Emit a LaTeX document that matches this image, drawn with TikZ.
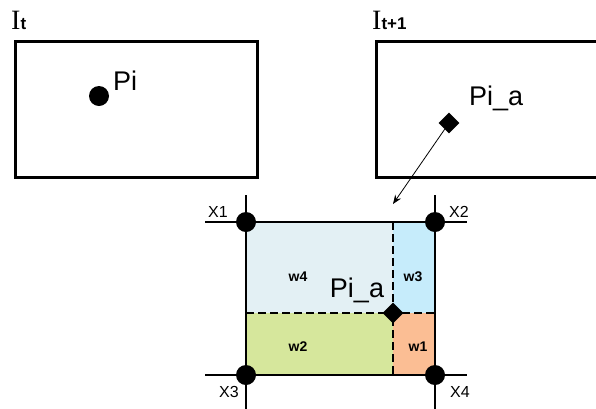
\documentclass[tikz,border=0pt]{standalone}
\usepackage{fontspec}
\setmainfont{Liberation Sans}
\newfontfamily\serifI{Liberation Serif}
\usetikzlibrary{shapes.geometric,arrows.meta}
\definecolor{cwfour}{HTML}{E3F0F4}
\definecolor{cwthree}{HTML}{C6ECFB}
\definecolor{cwtwo}{HTML}{D6E79C}
\definecolor{cwone}{HTML}{FBBE94}
\tikzset{
  frame/.style={line width=3pt},
  gridline/.style={line width=2pt},
  dashline/.style={line width=1.8pt, dash pattern=on 8pt off 4pt},
  dot/.style={circle, fill=black, inner sep=0pt, minimum size=20pt},
  diam/.style={diamond, fill=black, inner sep=0pt, minimum size=21pt},
  biglbl/.style={font=\fontsize{27}{27}\selectfont, inner sep=0pt},
  xlbl/.style={font=\fontsize{16}{16}\selectfont, inner sep=0pt},
  wlbl/.style={font=\bfseries\fontsize{14}{14}\selectfont, inner sep=0pt},
  Ilbl/.style={inner sep=0pt, anchor=base west}
}
\begin{document}
\begin{tikzpicture}[x=1pt,y=-1pt]
\useasboundingbox (0,0) rectangle (596,408);
\clip (0,0) rectangle (596,408);
\fill[white] (0,0) rectangle (596,408);
% titles
\node[Ilbl] (it) at (11,29) {{\serifI\fontsize{28}{28}\selectfont I}{\bfseries\fontsize{17}{17}\selectfont t}};
\node[Ilbl] (it1) at (372,29) {{\serifI\fontsize{28}{28}\selectfont I}{\bfseries\fontsize{17}{17}\selectfont t+1}};
% frames
\draw[frame] (15,41) rectangle (257,177);
\draw[frame] (376,41) rectangle (610,177);
% Pi in left frame
\node[dot] (pi) at (99,96) {};
\node[biglbl, anchor=south west] (pilbl) at (113,91) {Pi};
% Pi_a in right frame
\node[diam] (pa) at (449,123) {};
\node[biglbl, anchor=south west] (palbl) at (469,111) {Pi\_a};
% fills of the cell
\fill[cwfour] (246,222) rectangle (393,313);
\fill[cwthree] (393,222) rectangle (435,313);
\fill[cwtwo] (246,313) rectangle (393,375);
\fill[cwone] (393,313) rectangle (435,375);
% dashed split lines
\coordinate (dt) at (393,222);
\coordinate (db) at (393,375);
\coordinate (dl) at (246,313);
\coordinate (dr) at (435,313);
\draw[dashline] (dt) -- (db);
\draw[dashline] (dl) -- (dr);
% grid lines
\coordinate (ht1) at (205,222);
\coordinate (ht2) at (467,222);
\coordinate (hb1) at (205,375);
\coordinate (hb2) at (467,375);
\coordinate (vl1) at (246,195);
\coordinate (vl2) at (246,410);
\coordinate (vr1) at (435,195);
\coordinate (vr2) at (435,410);
\draw[gridline] (ht1) -- (ht2);
\draw[gridline] (hb1) -- (hb2);
\draw[gridline] (vl1) -- (vl2);
\draw[gridline] (vr1) -- (vr2);
% corner dots
\node[dot] (x1) at (246,222) {};
\node[dot] (x2) at (435,222) {};
\node[dot] (x3) at (246,375) {};
\node[dot] (x4) at (435,375) {};
\node[xlbl] (x1l) at (218,212) {X1};
\node[xlbl] (x2l) at (459,212) {X2};
\node[xlbl] (x3l) at (229,392) {X3};
\node[xlbl] (x4l) at (460,392) {X4};
% weights
\node[wlbl] (w4) at (298,277) {w4};
\node[wlbl] (w3) at (413,277) {w3};
\node[wlbl] (w2) at (298,347) {w2};
\node[wlbl] (w1) at (418,347) {w1};
% Pi_a in the cell
\node[diam] (pc) at (393,313) {};
\node[biglbl] (pclbl) at (357,290) {Pi\_a};
% arrow
\coordinate (atip) at (393,204);
\draw[line width=0.8pt, -{Stealth[length=9pt,width=7pt]}] (pa) -- (atip);
\end{tikzpicture}
\end{document}
